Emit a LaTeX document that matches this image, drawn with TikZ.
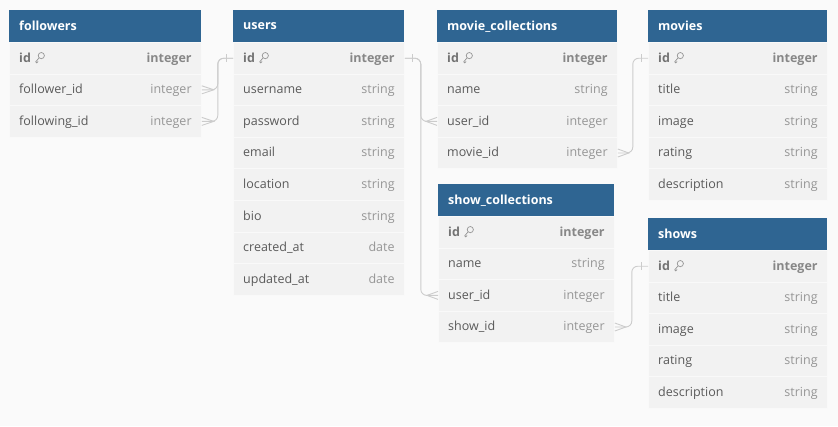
\documentclass[tikz,border=0pt]{standalone}
\usepackage{fontspec}
\setmainfont{Open Sans}
\usepackage{tikz}
\usetikzlibrary{calc}

\definecolor{headblue}{RGB}{47,101,146}
\definecolor{bodygray}{RGB}{242,242,242}
\definecolor{sepgray}{RGB}{249,249,249}
\definecolor{pagegray}{RGB}{250,250,250}
\definecolor{linkgray}{RGB}{204,204,204}
\definecolor{fieldgray}{RGB}{90,90,90}
\definecolor{typegray}{RGB}{150,150,150}

\tikzset{
  tablehead/.style={fill=headblue,text=white,font=\fontsize{12.5}{15}\selectfont\bfseries,
    minimum height=32,inner xsep=10,text depth=0.25ex,align=left,anchor=north west},
  tablerow/.style={fill=bodygray,draw=sepgray,line width=0.8,minimum height=31.6,
    inner sep=0,anchor=north west},
  fieldtext/.style={text=fieldgray,font=\fontsize{12.5}{15}\selectfont,inner sep=0,anchor=base west},
  typetext/.style={text=typegray,font=\fontsize{12.5}{15}\selectfont,inner sep=0,anchor=base east},
  link/.style={draw=linkgray,line width=0.9,rounded corners=6},
  keyicon/.pic={
    \draw[typegray,line width=0.7] (6.2,-2.6) circle (3.1);
    \draw[typegray,line width=0.7] (4,-0.4) -- (0.6,3.6) -- (1.6,4.6) -- (3,3.2);
  }
}

% table: node name, title, x, y, width, further rows {key/field/type,...}
\newcommand{\dbtable}[6]{%
  \node[tablehead,minimum width=#5,text width=#5-20] (#1) at (#3,#4) {#2};
  \node[tablerow,minimum width=#5] (#1-id) at (#3,#4+32) {};
  \node[fieldtext,font=\fontsize{12.5}{15}\selectfont\bfseries,text=fieldgray!85] (#1-idtext)
    at ([xshift=10,yshift=-3.8]#1-id.west) {id};
  \pic at ([xshift=4]#1-idtext.east |- #1-id.west) {keyicon};
  \node[typetext,font=\fontsize{12.5}{15}\selectfont\bfseries,text=typegray!90!black]
    at ([xshift=-10,yshift=-3.8]#1-id.east) {integer};
  \foreach \k/\f/\t [count=\i] in {#6} {
    \node[tablerow,minimum width=#5] (#1-\k) at (#3,{#4+32+31.6*\i}) {};
    \node[fieldtext] at ([xshift=10,yshift=-3.8]#1-\k.west) {\f};
    \node[typetext] at ([xshift=-10,yshift=-3.8]#1-\k.east) {\t};
  }
}

% crow's foot, open end at the table edge
\newcommand{\crowfoot}[2]{%
  \draw[linkgray,line width=0.9] ($(#1)+(0,-4)$) -- ($(#1)+(#2,0)$) -- ($(#1)+(0,4)$);
}
% single bar
\newcommand{\onebar}[2]{%
  \draw[linkgray,line width=0.9] ($(#1)+(#2,-4)$) -- ($(#1)+(#2,4)$);
}

\begin{document}
\begin{tikzpicture}[x=1pt,y=-1pt]
\fill[pagegray] (0,0) rectangle (838,426);
\useasboundingbox (0,0) rectangle (838,426);

\dbtable{followers}{followers}{9}{10}{192}{follower/follower\_id/integer,following/following\_id/integer}
\dbtable{users}{users}{233}{10}{171}{username/username/string,password/password/string,email/email/string,
  location/location/string,bio/bio/string,created/created\_at/date,updated/updated\_at/date}
\dbtable{moviecol}{movie\_collections}{437}{10}{180}{name/name/string,user/user\_id/integer,movie/movie\_id/integer}
\dbtable{movies}{movies}{648}{10}{179}{title/title/string,image/image/string,rating/rating/string,
  description/description/string}
\dbtable{showcol}{show\_collections}{438}{184}{176}{name/name/string,user/user\_id/integer,show/show\_id/integer}
\dbtable{shows}{shows}{648}{218}{179}{title/title/string,image/image/string,rating/rating/string,
  description/description/string}

% relations
\draw[link] (followers-follower.east) -- ++(16,0) |- (users-id.west);
\draw[link] (followers-following.east) -- ++(16,0) |- (users-id.west);
\crowfoot{followers-follower.east}{12}
\crowfoot{followers-following.east}{12}
\onebar{users-id.west}{-7}

\draw[link] (users-id.east) -- ++(16,0) |- (moviecol-user.west);
\draw[link] (users-id.east) -- ++(16,0) |- (showcol-user.west);
\onebar{users-id.east}{8}
\crowfoot{moviecol-user.west}{-11}
\crowfoot{showcol-user.west}{-11}

\draw[link] (moviecol-movie.east) -- ++(15,0) |- (movies-id.west);
\crowfoot{moviecol-movie.east}{11}
\onebar{movies-id.west}{-7}

\draw[link] (showcol-show.east) -- ++(17,0) |- (shows-id.west);
\crowfoot{showcol-show.east}{11}
\onebar{shows-id.west}{-7}
\end{tikzpicture}
\end{document}
